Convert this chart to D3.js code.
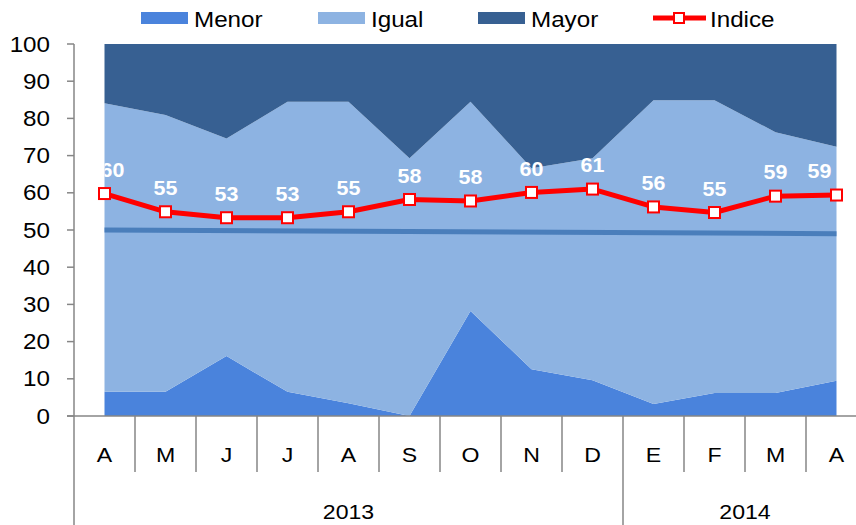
<!DOCTYPE html>
<html>
<head>
<meta charset="utf-8">
<script src="https://cdn.jsdelivr.net/npm/d3@7"></script>
<style>
  body { margin: 0; background: #fff; }
  text { font-family: "Liberation Sans", Arial, sans-serif; }
</style>
</head>
<body>
<script>
// months and years on the category axis
const months = ["A", "M", "J", "J", "A", "S", "O", "N", "D", "E", "F", "M", "A"];
const years = [{ label: "2013", from: 0, to: 9 }, { label: "2014", from: 9, to: 13 }];

// stacked shares (they add up to 100)
const menor = [6.5, 6.5, 16.1, 6.5, 3.4, 0, 28.2, 12.6, 9.6, 3.2, 6.2, 6.2, 9.5];
const igual = [77.6, 74.4, 58.5, 78.0, 81.1, 69.3, 56.3, 54.0, 59.7, 81.7, 78.7, 70.1, 62.9];
const mayor = [15.9, 19.1, 25.4, 15.5, 15.5, 30.7, 15.5, 33.4, 30.7, 15.1, 15.1, 23.7, 27.6];

// index line and its labels
const indice = [59.8, 54.9, 53.3, 53.3, 54.9, 58.2, 57.8, 60.1, 61.0, 56.2, 54.7, 59.1, 59.4];
const indiceLabels = ["60", "55", "53", "53", "55", "58", "58", "60", "61", "56", "55", "59", "59"];

// reference line (start and end value)
const refLine = [50.0, 49.0];

const yTicks = [0, 10, 20, 30, 40, 50, 60, 70, 80, 90, 100];

const W = 856, H = 525;
const colors = { Menor: "#4a83dc", Igual: "#8db3e2", Mayor: "#376092" };
const axisColor = "#868686";
const stretch = 1.1; // text in the original is a bit wide

const svg = d3.select("body").append("svg").attr("width", W).attr("height", H);

const x = d3.scaleBand().domain(d3.range(months.length)).range([74, 74 + 13 * 61]);
const cx = i => x(i) + x.bandwidth() / 2;
const y = d3.scaleLinear().domain([0, 100]).range([416, 44]);

// put a text at (px, py) with the horizontal stretch
function place(sel, px, py) {
    sel.attr("transform", (d, i) => "translate(" + px(d, i) + "," + py(d, i) + ") scale(" + stretch + ",1)");
}

// build table for the stack
let table = months.map((m, i) => ({ i: i, Menor: menor[i], Igual: igual[i], Mayor: mayor[i] }));
let series = d3.stack().keys(["Menor", "Igual", "Mayor"])(table);

let area = d3.area()
    .x(d => cx(d.data.i))
    .y0(d => y(d[0]))
    .y1(d => y(d[1]));

svg.append("g").selectAll("path").data(series).join("path")
    .attr("d", area)
    .attr("fill", d => colors[d.key]);

// reference line
svg.append("line")
    .attr("x1", cx(0)).attr("y1", y(refLine[0]))
    .attr("x2", cx(months.length - 1)).attr("y2", y(refLine[1]))
    .attr("stroke", "#4a7ebb").attr("stroke-width", 5);

// index line
let line = d3.line().x((d, i) => cx(i)).y(d => y(d));
svg.append("path").datum(indice)
    .attr("d", line)
    .attr("fill", "none")
    .attr("stroke", "#ff0000")
    .attr("stroke-width", 5)
    .attr("stroke-linejoin", "round");

svg.append("g").selectAll("rect").data(indice).join("rect")
    .attr("x", (d, i) => cx(i) - 5.5)
    .attr("y", d => y(d) - 5.5)
    .attr("width", 11).attr("height", 11)
    .attr("fill", "#fff")
    .attr("stroke", "#ff0000")
    .attr("stroke-width", 2);

// data labels, kept inside the plot area like the original
svg.append("clipPath").attr("id", "plotclip")
    .append("rect")
    .attr("x", cx(0)).attr("y", 44)
    .attr("width", cx(months.length - 1) - cx(0)).attr("height", 372);

const last = months.length - 1;
svg.append("g").attr("clip-path", "url(#plotclip)")
    .selectAll("text").data(indice).join("text")
    .attr("text-anchor", "middle")
    .attr("dominant-baseline", "central")
    .attr("fill", "#fff")
    .attr("font-weight", "bold")
    .attr("font-size", 19.5)
    .text((d, i) => indiceLabels[i])
    .call(place, (d, i) => cx(i) + (i === 0 ? 8 : i === last ? -17 : 0), d => y(d) - 24);

// y axis
let yAxis = svg.append("g");
yAxis.append("line")
    .attr("x1", 74).attr("x2", 74).attr("y1", 44).attr("y2", 416)
    .attr("stroke", axisColor).attr("stroke-width", 1.5);
yAxis.selectAll("line.tick").data(yTicks).join("line")
    .attr("class", "tick")
    .attr("x1", 67).attr("x2", 74)
    .attr("y1", d => y(d)).attr("y2", d => y(d))
    .attr("stroke", axisColor).attr("stroke-width", 1.5);
yAxis.selectAll("text").data(yTicks).join("text")
    .attr("text-anchor", "end")
    .attr("dominant-baseline", "central")
    .attr("font-size", 22)
    .text(d => d)
    .call(place, () => 50, d => y(d));

// x axis: baseline, separators, month and year labels
let xa = svg.append("g");
xa.append("line")
    .attr("x1", 67).attr("x2", W)
    .attr("y1", 416).attr("y2", 416)
    .attr("stroke", axisColor).attr("stroke-width", 1.5);

let bounds = d3.range(months.length + 1);
xa.selectAll("line.sep").data(bounds).join("line")
    .attr("class", "sep")
    .attr("x1", i => 74 + i * x.step()).attr("x2", i => 74 + i * x.step())
    .attr("y1", 416)
    .attr("y2", i => years.some(yr => yr.from === i) || i === months.length ? H : 472)
    .attr("stroke", axisColor).attr("stroke-width", 1.5);

xa.selectAll("text.month").data(months).join("text")
    .attr("class", "month")
    .attr("text-anchor", "middle")
    .attr("dominant-baseline", "central")
    .attr("font-size", 21)
    .text(d => d)
    .call(place, (d, i) => cx(i), () => 455);

xa.selectAll("text.year").data(years).join("text")
    .attr("class", "year")
    .attr("text-anchor", "middle")
    .attr("dominant-baseline", "central")
    .attr("font-size", 21)
    .text(d => d.label)
    .call(place, d => (x(d.from) + x(d.to - 1) + x.bandwidth()) / 2, () => 512);

// legend
let legend = svg.append("g");
const legendItems = [
    { name: "Menor", x: 141 },
    { name: "Igual", x: 318 },
    { name: "Mayor", x: 478 }
];
legendItems.forEach(it => {
    legend.append("rect")
        .attr("x", it.x).attr("y", 12)
        .attr("width", 47).attr("height", 12)
        .attr("fill", colors[it.name]);
    legend.append("text")
        .attr("dominant-baseline", "central")
        .attr("font-size", 22)
        .text(it.name)
        .call(place, () => it.x + 53, () => 19);
});
legend.append("line")
    .attr("x1", 653).attr("x2", 706).attr("y1", 18).attr("y2", 18)
    .attr("stroke", "#ff0000").attr("stroke-width", 5);
legend.append("rect")
    .attr("x", 674).attr("y", 13).attr("width", 10).attr("height", 10)
    .attr("fill", "#fff").attr("stroke", "#ff0000").attr("stroke-width", 2);
legend.append("text")
    .attr("dominant-baseline", "central")
    .attr("font-size", 22)
    .text("Indice")
    .call(place, () => 710, () => 19);
</script>
</body>
</html>
